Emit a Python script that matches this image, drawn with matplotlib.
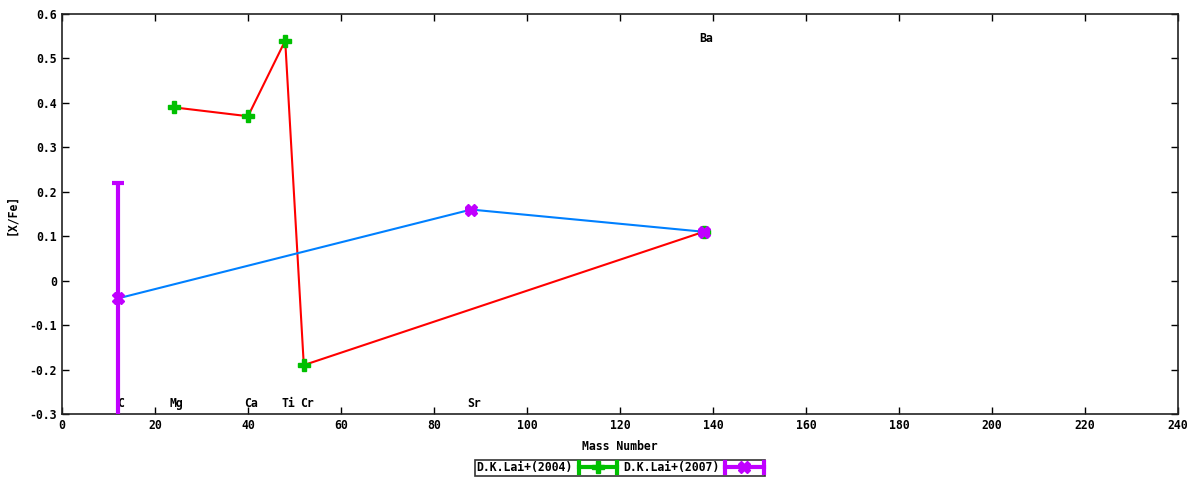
import matplotlib
matplotlib.use("Agg")
import matplotlib.pyplot as plt
from matplotlib.lines import Line2D
from matplotlib.legend_handler import HandlerBase

plt.rcParams['font.family'] = ['DejaVu Sans Mono']
plt.rcParams['font.weight'] = 'bold'
plt.rcParams['font.size'] = 8.3

# Data
lai2004_mass = [24, 40, 48, 52, 138]
lai2004_xfe = [0.39, 0.37, 0.54, -0.19, 0.11]

lai2007_mass = [12, 88, 138]
lai2007_xfe = [-0.04, 0.16, 0.11]
lai2007_err_low = [0.30, 0.0, 0.0]
lai2007_err_high = [0.26, 0.0, 0.0]

elem_names = ["C", "Mg", "Ca", "Ti", "Cr", "Sr", "Ba"]
elem_mass = [12, 24, 40, 48, 52, 88, 138]
elem_label_y = [-0.277, -0.277, -0.277, -0.277, -0.277, -0.277, 0.546]

GREEN = "#00C000"
PURPLE = "#C000FF"
RED = "#FF0000"
BLUE = "#0080FF"
FS = 8.3

fig = plt.figure(figsize=(12, 4.8), dpi=100)
ax = fig.add_axes([62/1200, 1-414/480, (1178-62)/1200, (414-14)/480])

# 2004 series
ax.plot(lai2004_mass, lai2004_xfe, color=RED, lw=1.5, zorder=2)
ax.plot(lai2004_mass, lai2004_xfe, linestyle='none', marker='P', ms=8,
        color=GREEN, mec=GREEN, zorder=3)

# 2007 series
ax.plot(lai2007_mass, lai2007_xfe, color=BLUE, lw=1.5, zorder=2)
ax.errorbar(lai2007_mass, lai2007_xfe,
            yerr=[lai2007_err_low, lai2007_err_high],
            fmt='none', ecolor=PURPLE, elinewidth=3, capsize=4, capthick=3, zorder=3)
ax.plot(lai2007_mass, lai2007_xfe, linestyle='none', marker='X', ms=8,
        color=PURPLE, mec=PURPLE, zorder=4)

for name, m, y in zip(elem_names, elem_mass, elem_label_y):
    ax.annotate(name, (m, y), xytext=(2, 0), textcoords='offset points',
                ha='center', va='center', fontsize=FS, fontweight='bold', zorder=1)

ax.set_xlim(0, 240)
ax.set_ylim(-0.3, 0.6)
ax.set_xticks(range(0, 241, 20))
ax.set_yticks([-0.3, -0.2, -0.1, 0, 0.1, 0.2, 0.3, 0.4, 0.5, 0.6])
ax.set_yticklabels(["-0.3", "-0.2", "-0.1", "0", "0.1", "0.2", "0.3", "0.4", "0.5", "0.6"])
ax.tick_params(direction='in', top=True, right=True, length=5, width=1, labelsize=FS)
for s in ax.spines.values():
    s.set_linewidth(1.2)
    s.set_color('#222222')
ax.set_xlabel("Mass Number", fontsize=FS, fontweight='bold', labelpad=6)
ax.set_ylabel("[X/Fe]", fontsize=FS, fontweight='bold', labelpad=8)


class ErrSample(HandlerBase):
    def __init__(self, color, marker):
        super().__init__()
        self.color = color
        self.marker = marker

    def create_artists(self, legend, orig_handle, xdescent, ydescent, width, height, fontsize, trans):
        y = height / 2 - ydescent
        x0, x1 = -xdescent, -xdescent + width
        arts = [Line2D([x0, x1], [y, y], color=self.color, lw=3, transform=trans),
                Line2D([x0, x0], [y - 4, y + 4], color=self.color, lw=3, transform=trans),
                Line2D([x1, x1], [y - 4, y + 4], color=self.color, lw=3, transform=trans),
                Line2D([(x0 + x1) / 2], [y], marker=self.marker, ms=8, color=self.color,
                       linestyle='none', transform=trans)]
        return arts


h1 = Line2D([], [], color=GREEN)
h2 = Line2D([], [], color=PURPLE)
leg = fig.legend([h1, h2], ["D.K.Lai+(2004)", "D.K.Lai+(2007)"],
                 handler_map={h1: ErrSample(GREEN, 'P'), h2: ErrSample(PURPLE, 'X')},
                 loc='center', bbox_to_anchor=(620/1200, 1-468/480), ncol=2,
                 markerfirst=False, frameon=True, fancybox=False, edgecolor='black',
                 borderpad=0.15, handlelength=3.3, columnspacing=0.6, handletextpad=0.5,
                 fontsize=FS, borderaxespad=0)
leg.get_frame().set_linewidth(1.2)

fig.savefig("out.png", dpi=100)
